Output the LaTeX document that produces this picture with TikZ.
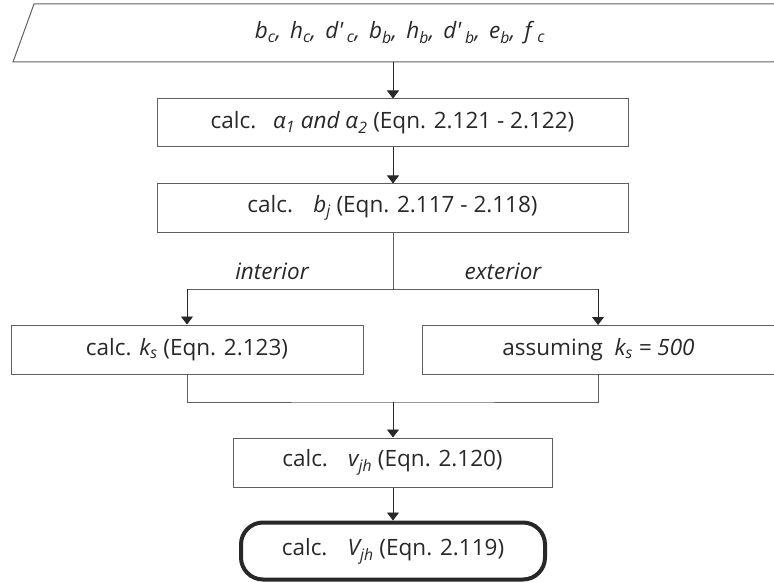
\documentclass[tikz,border=0pt]{standalone}
\usepackage{fontspec}
\setmainfont{Open Sans}
\usetikzlibrary{arrows.meta}
\definecolor{boxline}{RGB}{95,95,95}
\definecolor{ink}{RGB}{40,40,40}
\newcommand{\sbs}[1]{\textsubscript{#1}}
\newcommand{\apos}{\textquotesingle}
\newcommand{\sep}{,\hspace{9pt}}
\begin{document}
\begin{tikzpicture}[x=1pt,y=-1pt,
  every node/.style={font=\fontsize{22.5}{27}\selectfont, text=ink},
  procbox/.style={draw=boxline, line width=1pt, minimum width=#1, minimum height=48pt, inner sep=0pt},
  flow/.style={draw=ink, line width=0.9pt, -{Triangle[length=8pt,width=12pt]}},
  wire/.style={draw=boxline, line width=1pt},
  lbl/.style={font=\fontsize{22.5}{27}\selectfont\itshape}]
\useasboundingbox (0,0) rectangle (774,583);
\begin{scope}
\clip (0,0) rectangle (774,583);
% data input parallelogram
\draw[boxline, line width=1pt] (13,62) -- (34,4) -- (795,4) -- (774,62) -- cycle;
\end{scope}
\node (inp) at (400,33) {\itshape b\sbs{c}\sep h\sbs{c}\sep d\apos\,\sbs{c}\sep b\sbs{b}\sep h\sbs{b}\sep d\apos\,\sbs{b}\sep e\sbs{b}\sep f \sbs{c}};
\coordinate (inpb) at (393,62);

\node[procbox=471pt] (alpha) at (392.5,123) {calc.\hspace{0.75em}\textit{α\sbs{1} and α\sbs{2}} (Eqn. 2.121 - 2.122)};
\node[procbox=471pt] (bj) at (392.5,208) {calc.\hspace{0.9em}\textit{b\sbs{j}} (Eqn. 2.117 - 2.118)};
\node[procbox=352pt, minimum height=49pt] (ksc) at (187,349.5) {calc. \textit{k\sbs{s}} (Eqn. 2.123)};
\node[procbox=353pt, minimum height=49pt] (ksa) at (598.5,349.5) {assuming \ \textit{k\sbs{s} = 500}};
\node[procbox=319pt, minimum height=49pt] (vjh) at (392.5,462.5) {calc.\hspace{0.9em}\textit{v\sbs{jh}} (Eqn. 2.120)};
\node[draw=ink, line width=4pt, rounded corners=22pt, minimum width=304pt, minimum height=57pt] (Vjh) at (393,551) {calc.\hspace{0.9em}\textit{V\sbs{jh}} (Eqn. 2.119)};

\coordinate (split) at (393,289);
\coordinate (merge) at (393,402);
\node[lbl] (lint) at (272,271) {interior};
\node[lbl] (lext) at (503,271) {exterior};

\draw[flow] (inpb) -- (inpb|-alpha.north);
\draw[flow] (alpha.south -| inpb) -- (bj.north -| inpb);
\draw[wire] (bj.south -| split) -- (split);
\draw[wire] (187,289) -- (598,289);
\draw[flow] (187,289) -- (ksc.north);
\draw[flow] (598,289) -- (598,325);
\draw[wire] (ksc.south) |- (merge) -| (598,374);
\draw[flow] (merge) -- (vjh.north -| merge);
\draw[flow] (vjh.south -| merge) -- (Vjh.north);
\end{tikzpicture}
\end{document}
